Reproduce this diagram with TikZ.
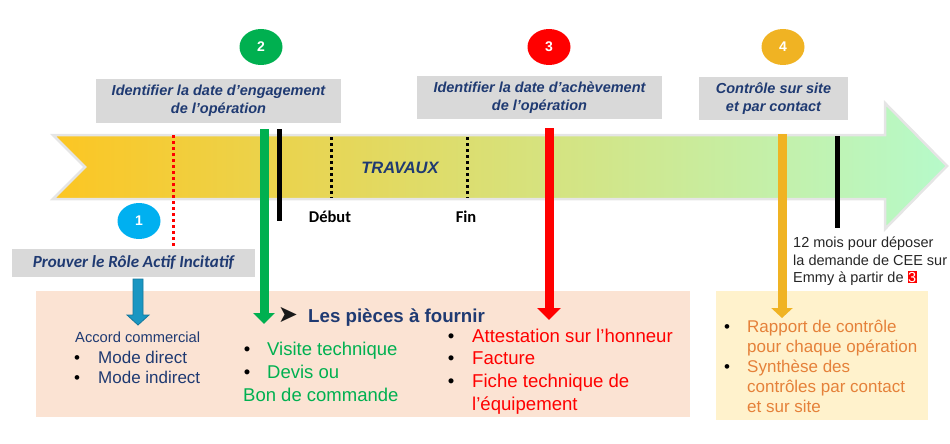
\documentclass[tikz,border=0pt]{standalone}
\usepackage{fontspec}
\setmainfont{Liberation Sans}
\newfontfamily\calib{Carlito}
\newfontfamily\dejavu{DejaVu Sans}
\usetikzlibrary{arrows.meta,shapes.geometric}
\definecolor{navy}{HTML}{1F3A72}
\definecolor{boxgray}{HTML}{D9D9D9}
\definecolor{cblue}{HTML}{00B0F0}
\definecolor{cgreen}{HTML}{00B050}
\definecolor{cred}{HTML}{FF0000}
\definecolor{cgold}{HTML}{F0B323}
\definecolor{arrL}{HTML}{FCC623}
\definecolor{arrM}{HTML}{EEE78C}
\definecolor{arrR}{HTML}{B6FACA}
\definecolor{peach}{HTML}{FBE3D3}
\definecolor{pale}{HTML}{FFF2CC}
\definecolor{orangetxt}{HTML}{E5813A}
\definecolor{bluearr}{HTML}{1A96C2}
\definecolor{bluearrd}{HTML}{14779C}
\definecolor{darktxt}{HTML}{262626}
\tikzset{
  lbl/.style={inner sep=0pt, anchor=base west},
  bul/.style={inner sep=0pt, anchor=base},
  graybox/.style={fill=boxgray, inner sep=0pt, align=center, text=navy,
    font=\fontsize{14.5}{18}\selectfont\bfseries\itshape},
  num/.style={ellipse, minimum width=43pt, minimum height=36pt, inner sep=0pt,
    text=white, font=\fontsize{14}{14}\selectfont\bfseries},
  vbar/.style={line width=9pt},
  blackbar/.style={line width=5pt, black},
  dots/.style={line width=3pt, dash pattern=on 3pt off 3pt},
}
\begin{document}
\begin{tikzpicture}[x=1pt,y=-1pt]
\useasboundingbox (0,0) rectangle (950,444);
% big arrow
\path[left color=arrL, middle color=arrM, right color=arrR]
  (53,135) -- (885,135) -- (885,103) -- (947,166) -- (885,229) -- (885,199)
  -- (53,199) -- (85,167) -- cycle;
\draw[black!10, line width=2.5pt, line join=miter]
  (53,135) -- (885,135) -- (885,103) -- (947,166) -- (885,229) -- (885,199)
  -- (53,199) -- (85,167) -- cycle;
% bottom boxes
\fill[peach] (36,291) rectangle (690,417);
\fill[pale] (716,291) rectangle (928,420);
% gray boxes
\node[graybox, minimum width=245pt, minimum height=44pt] (b2) at (218.5,101)
  {Identifier la date d’engagement\\de l’opération};
\node[graybox, minimum width=245pt, minimum height=43pt] (b3) at (539.5,97.5)
  {Identifier la date d’achèvement\\de l’opération};
\node[graybox, minimum width=149pt, minimum height=43pt] (b4) at (773.5,98.5)
  {Contrôle sur site\\et par contact};
\node[graybox, minimum width=243pt, minimum height=28pt,
  font=\calib\fontsize{17}{17}\selectfont\bfseries\itshape] (b1) at (133.5,263)
  {Prouver le Rôle Actif Incitatif};
% number circles
\node[num, fill=cblue] (n1) at (139,221) {1};
\node[num, fill=cgreen] (n2) at (261,47) {2};
\node[num, fill=cred] (n3) at (549,47) {3};
\node[num, fill=cgold] (n4) at (783,47) {4};
% coordinates
\coordinate (rdTop) at (173,135);
\coordinate (gTop) at (264,129);
\coordinate (gTip) at (264,324);
\coordinate (rTop) at (549,128);
\coordinate (rTip) at (549,320);
\coordinate (oTop) at (782,134);
\coordinate (oTip) at (782,318);
\coordinate (k1a) at (279,129);
\coordinate (k1b) at (279,221);
\coordinate (k2a) at (837,136);
\coordinate (k2b) at (837,228);
\coordinate (d1a) at (331,137);
\coordinate (d1b) at (331,198);
\coordinate (d2a) at (467,137);
\coordinate (d2b) at (467,198);
% vertical markers
\draw[dots, cred] (rdTop) -- (rdTop |- b1.north);
\draw[blackbar] (k1a) -- (k1b);
\draw[blackbar] (k2a) -- (k2b);
\draw[dots, black] (d1a) -- (d1b);
\draw[dots, black] (d2a) -- (d2b);
\draw[vbar, cgreen, -{Triangle[width=21pt,length=11pt]}] (gTop) -- (gTip);
\draw[vbar, cred, -{Triangle[width=23pt,length=12pt]}] (rTop) -- (rTip);
\draw[vbar, cgold, -{Triangle[width=21pt,length=10pt]}] (oTop) -- (oTip);
% blue block arrow
\draw[fill=bluearr, draw=bluearrd, line width=0.8pt]
  (133,279) -- (143,279) -- (143,315) -- (149,315) -- (138,325) -- (127,315)
  -- (133,315) -- cycle;
% labels on timeline
\node[bul, text=navy, font=\fontsize{16.5}{16.5}\selectfont\bfseries\itshape] (trav) at (400,173) {TRAVAUX};
\node[bul, font=\calib\fontsize{16.5}{16.5}\selectfont\bfseries] (deb) at (330,222) {Début};
\node[bul, font=\calib\fontsize{16.5}{16.5}\selectfont\bfseries] (fin) at (466,222) {Fin};
% 12 mois
\begin{scope}[every node/.style={lbl, text=darktxt, font=\fontsize{14.5}{14.5}\selectfont}]
\node (m1) at (793,247) {12 mois pour déposer};
\node (m2) at (793,265) {la demande de CEE sur};
\node (m3) at (793,282) {Emmy à partir de {\setlength{\fboxsep}{0.6pt}\colorbox{cred}{\textcolor{white}{3}}}};
\end{scope}
% navy list
\node[lbl, text=navy, font=\fontsize{14.7}{14.7}\selectfont] (acc) at (75,342) {Accord commercial};
\begin{scope}[every node/.style={lbl, text=navy, font=\fontsize{17}{17}\selectfont}]
\node (md) at (98,363) {Mode direct};
\node (mi) at (98,383) {Mode indirect};
\node[bul, text=black] (bmd) at (77,363) {•};
\node[bul, text=black] (bmi) at (77,383) {•};
\end{scope}
% pieces a fournir
\node[inner sep=0pt, text=black!90, font=\dejavu\fontsize{24}{24}\selectfont] (arrb) at (288,315) {➤};
\node[lbl, text=navy, font=\fontsize{18.7}{18.7}\selectfont\bfseries] (pie) at (308,322) {Les pièces à fournir};
% green list
\begin{scope}[every node/.style={lbl, text=cgreen, font=\fontsize{18.5}{18.5}\selectfont}]
\node (g1) at (267,355) {Visite technique};
\node (g2) at (267,378) {Devis ou};
\node (g3) at (243,401) {Bon de commande};
\node[bul, text=black] (bg1) at (247,355) {•};
\node[bul, text=black] (bg2) at (247,378) {•};
\end{scope}
% red list
\begin{scope}[every node/.style={lbl, text=cred, font=\fontsize{18.6}{18.6}\selectfont}]
\node (r1) at (472,342) {Attestation sur l’honneur};
\node (r2) at (472,364) {Facture};
\node (r3) at (472,387) {Fiche technique de};
\node (r4) at (472,410) {l’équipement};
\node[bul, text=black] (br1) at (451,342) {•};
\node[bul, text=black] (br2) at (451,364) {•};
\node[bul, text=black] (br3) at (451,387) {•};
\end{scope}
% orange list
\begin{scope}[every node/.style={lbl, text=orangetxt, font=\fontsize{17}{17}\selectfont}]
\node (o1) at (747,332) {Rapport de contrôle};
\node (o2) at (747,352) {pour chaque opération};
\node (o3) at (747,372) {Synthèse des};
\node (o4) at (747,392) {contrôles par contact};
\node (o5) at (747,412) {et sur site};
\node[bul, text=black] (bo1) at (727,332) {•};
\node[bul, text=black] (bo3) at (727,372) {•};
\end{scope}
\end{tikzpicture}
\end{document}
